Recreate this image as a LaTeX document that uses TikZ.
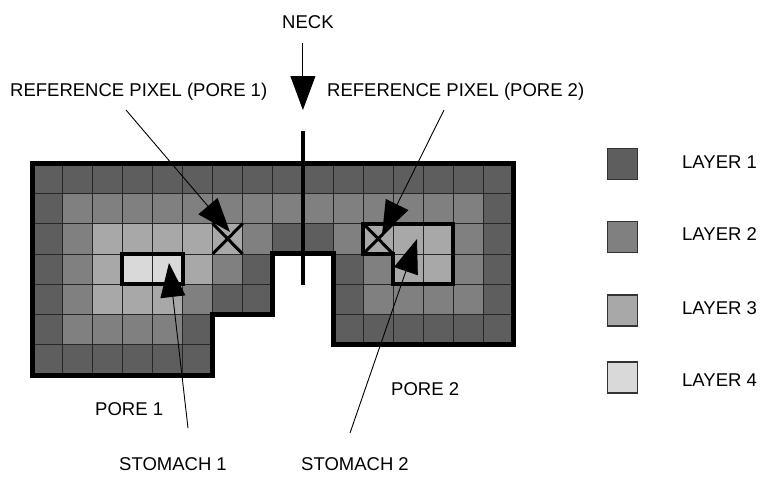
\documentclass[tikz,border=0pt]{standalone}
\usepackage{fontspec}
\setmainfont{Liberation Sans}
\usetikzlibrary{arrows.meta}
\colorlet{layer1}{black!63}
\colorlet{layer2}{black!50}
\colorlet{layer3}{black!34}
\colorlet{layer4}{black!15}

\begin{document}
\begin{tikzpicture}[x=1pt,y=-1pt,>={Triangle[length=34pt,width=25pt]},
  font=\fontsize{18.5}{22}\selectfont,
  lbl/.style={anchor=base west,inner sep=0pt},
  pointer/.style={->,line width=0.9pt},
  rim/.style={line width=5pt,line join=miter},
  pore/.style={line width=4pt,line join=miter},
  keybox/.style={draw=black!80,line width=1.2pt,minimum width=30pt,minimum height=31pt,inner sep=0pt}]
\useasboundingbox (0,0) rectangle (760,477);
\begin{scope}[shift={(32pt,-163pt)},x=30.1pt,y=-30.3pt]
\foreach \cells [count=\cy from 0] in {
    {1,1,1,1,1,1,1,1,1,1,1,1,1,1,1,1},
    {1,2,2,2,2,2,2,2,2,2,2,2,2,2,2,1},
    {1,2,3,3,3,3,3,2,1,1,2,3,3,3,2,1},
    {1,2,3,4,4,3,2,1,0,0,1,2,3,3,2,1},
    {1,2,3,3,3,2,1,1,0,0,1,2,2,2,2,1},
    {1,2,2,2,2,1,0,0,0,0,1,1,1,1,1,1},
    {1,1,1,1,1,1,0,0,0,0,0,0,0,0,0,0}}
  \foreach \ly [count=\cx from 0] in \cells {
    \ifnum\ly>0 \filldraw[fill=layer\ly,draw=black!85,line width=0.8pt] (\cx,\cy) rectangle ++(1,1); \fi
  }
\draw[rim] (0,0) -| (16,6) -| (10,3) -| (8,5) -| (6,7) -- (0,7) -- cycle;
\draw[pore] (3,3) rectangle (5,4);
\draw[pore] (11,2) -- (14,2) -- (14,4) -- (12,4) -- (12,3) -- (11,3) -- cycle;
\foreach \cx in {6,11}
  \draw[line width=3pt] (\cx,2) -- ++(1,1) (\cx+1,2) -- ++(-1,1);
\draw[line width=3.5pt] (9,-1.06) -- (9,4.03);
\end{scope}
\node[lbl] (neck) at (282,28) {NECK};
\node[lbl] (ref1) at (10,96) {REFERENCE PIXEL (PORE 1)};
\node[lbl] (ref2) at (327,96) {REFERENCE PIXEL (PORE 2)};
\node[lbl] (pore1) at (95,415) {PORE 1};
\node[lbl] (pore2) at (391,395) {PORE 2};
\node[lbl] (stomach1) at (119,470) {STOMACH 1};
\node[lbl] (stomach2) at (301,470) {STOMACH 2};
\coordinate (neckfrom) at (302.9,43);
\coordinate (necktip) at (302.9,110);
\coordinate (ref1from) at (126,110);
\coordinate (ref1tip) at (230,232);
\coordinate (ref2from) at (444,110);
\coordinate (ref2tip) at (382,235);
\coordinate (stomach1from) at (188,428);
\coordinate (stomach1tip) at (169,263);
\coordinate (stomach2from) at (350,433);
\coordinate (stomach2tip) at (417,239);
\foreach \a in {neck,ref1,ref2,stomach1,stomach2}
  \draw[pointer] (\a from) -- (\a tip);
\foreach \k/\ky/\kb in {1/164/168,2/237/240,3/310.5/314,4/377.5/386} {
  \node[keybox,fill=layer\k] (key\k) at (622.5,\ky) {};
  \node[lbl] (keylabel\k) at (682,\kb) {LAYER \k};
}
\end{tikzpicture}
\end{document}
